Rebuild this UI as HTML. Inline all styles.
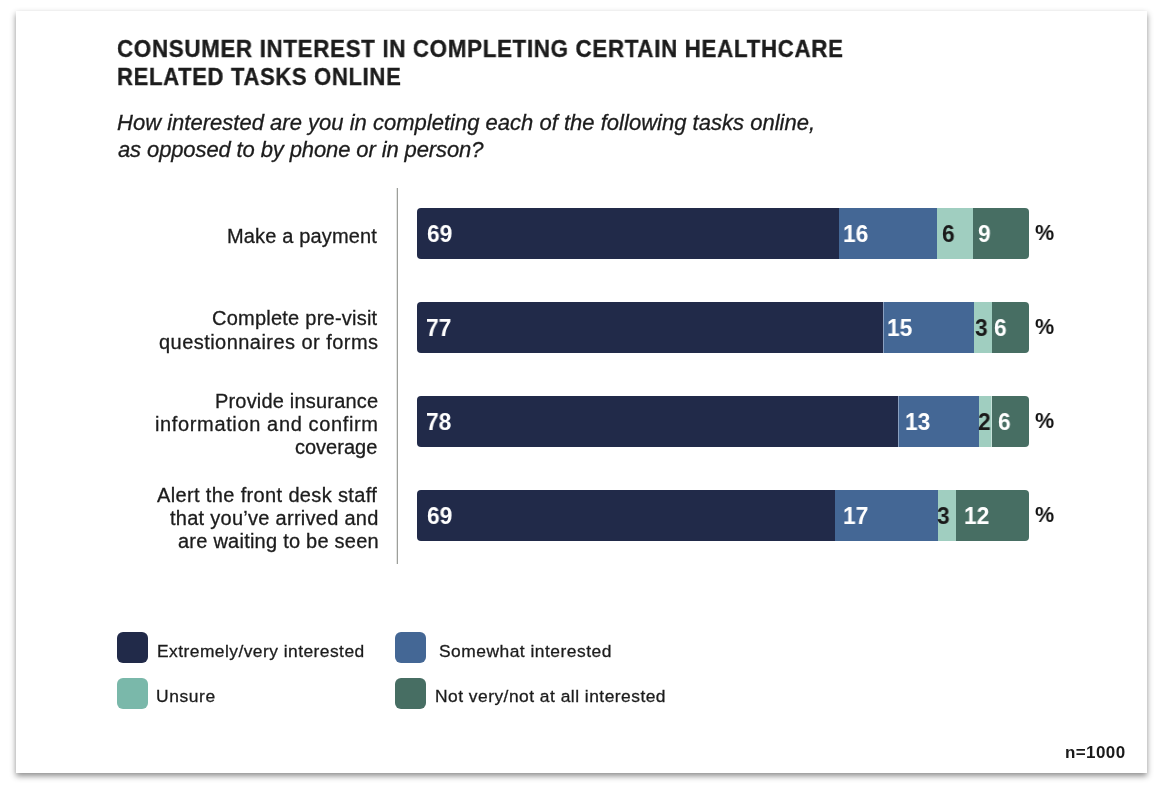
<!DOCTYPE html>
<html><head><meta charset="utf-8">
<style>
html,body{margin:0;padding:0;width:1166px;height:788px;background:#fff;overflow:hidden;}
body{position:relative;font-family:"Liberation Sans",sans-serif;color:#222;}
.card{position:absolute;left:16px;top:11px;width:1131px;height:762px;background:#fff;box-shadow:0 2.5px 6px rgba(0,0,0,0.45);}
.t{position:absolute;white-space:nowrap;line-height:1;will-change:transform;}
.title{font-weight:bold;color:#1c1c1c;-webkit-text-stroke:0.35px #1c1c1c;}
.sub{font-style:italic;color:#1c1c1c;-webkit-text-stroke:0.3px #1c1c1c;}
.lab{color:#1c1c1c;-webkit-text-stroke:0.3px #1c1c1c;}
.leg{color:#1c1c1c;-webkit-text-stroke:0.3px #1c1c1c;}
.nn{font-weight:bold;color:#1a1a1a;}
.num{font-weight:bold;}
.w{color:#fff;}
.k{color:#1a1a1a;}
.pct{font-weight:bold;color:#111;}
.vline{position:absolute;left:396px;top:188px;width:2px;height:376px;background:linear-gradient(to right,#e4e5e3 50%,#9d9f9b 50%);}
.bar{position:absolute;left:417px;width:612px;height:51px;border-radius:4px;overflow:hidden;}
.seg{position:absolute;top:0;height:51px;}
.c1{background:#212a49;}
.c2{background:#446795;}
.c3{background:#a0cec0;}
.c4{background:#476e63;}
.sep{position:absolute;top:0;width:1px;height:51px;}
.sw{position:absolute;width:31px;height:31px;border-radius:6px;}
.bl{display:inline-block;width:0;height:0;vertical-align:baseline;}
</style></head><body>
<div class="card"></div>
<div class="vline"></div>
<div class="bar" style="top:208px;"><div class="seg c1" style="left:0.00px;width:422.00px;"></div><div class="seg c2" style="left:422.00px;width:98.00px;"></div><div class="seg c3" style="left:520.00px;width:36.00px;"></div><div class="seg c4" style="left:556.00px;width:56.00px;"></div></div>
<div class="bar" style="top:302px;"><div class="seg c1" style="left:0.00px;width:467.00px;"></div><div class="seg c2" style="left:467.00px;width:90.00px;"></div><div class="seg c3" style="left:557.00px;width:18.00px;"></div><div class="seg c4" style="left:575.00px;width:37.00px;"></div><div class="sep" style="left:466px;background:#8aa0c0;"></div></div>
<div class="bar" style="top:396px;"><div class="seg c1" style="left:0.00px;width:481.50px;"></div><div class="seg c2" style="left:481.50px;width:80.50px;"></div><div class="seg c3" style="left:562.00px;width:13.00px;"></div><div class="seg c4" style="left:575.00px;width:37.00px;"></div><div class="sep" style="left:481px;background:#8aa0c0;"></div><div class="sep" style="left:574px;background:#c6e2da;"></div></div>
<div class="bar" style="top:490px;"><div class="seg c1" style="left:0.00px;width:417.60px;"></div><div class="seg c2" style="left:417.60px;width:103.00px;"></div><div class="seg c3" style="left:520.60px;width:18.40px;"></div><div class="seg c4" style="left:539.00px;width:73.00px;"></div></div>
<div class="sw c1" style="left:117px;top:632px;"></div>
<div class="sw c2" style="left:395px;top:632px;"></div>
<div class="sw" style="left:117px;top:678px;background:#7ab8aa;"></div>
<div class="sw c4" style="left:395px;top:678px;"></div>
<div class="t title" id="t1" style="left:117.00px;top:37.01px;font-size:24.70px;letter-spacing:0.700px;transform:scaleX(0.9075);transform-origin:0 0;">CONSUMER INTEREST IN COMPLETING CERTAIN HEALTHCARE</div>
<div class="t title" id="t2" style="left:117.00px;top:65.01px;font-size:24.70px;letter-spacing:0.700px;transform:scaleX(0.8955);transform-origin:0 0;">RELATED TASKS ONLINE</div>
<div class="t sub" id="s1" style="left:116.50px;top:112.01px;font-size:22.00px;letter-spacing:0.014px;">How interested are you in completing each of the following tasks online,</div>
<div class="t sub" id="s2" style="left:117.50px;top:139.01px;font-size:22.00px;letter-spacing:-0.114px;">as opposed to by phone or in person?</div>
<div class="t lab" id="l1" style="left:227.20px;top:226.00px;font-size:20.00px;letter-spacing:0.154px;">Make a payment</div>
<div class="t lab" id="l2a" style="left:212.00px;top:308.30px;font-size:20.00px;letter-spacing:0.235px;">Complete pre-visit</div>
<div class="t lab" id="l2b" style="left:158.60px;top:331.50px;font-size:20.00px;letter-spacing:0.455px;">questionnaires or forms</div>
<div class="t lab" id="l3a" style="left:215.10px;top:391.00px;font-size:20.00px;letter-spacing:0.187px;">Provide insurance</div>
<div class="t lab" id="l3b" style="left:155.20px;top:414.00px;font-size:20.00px;letter-spacing:0.636px;">information and confirm</div>
<div class="t lab" id="l3c" style="left:295.40px;top:437.40px;font-size:20.00px;">coverage</div>
<div class="t lab" id="l4a" style="left:157.30px;top:485.00px;font-size:20.00px;letter-spacing:0.360px;">Alert the front desk staff</div>
<div class="t lab" id="l4b" style="left:170.30px;top:508.00px;font-size:20.00px;letter-spacing:0.273px;">that you’ve arrived and</div>
<div class="t lab" id="l4c" style="left:177.90px;top:531.00px;font-size:20.00px;letter-spacing:0.238px;">are waiting to be seen</div>
<div class="t leg" id="g1" style="left:156.50px;top:643.00px;font-size:17.40px;letter-spacing:0.458px;">Extremely/very interested</div>
<div class="t leg" id="g2" style="left:438.60px;top:643.00px;font-size:17.40px;letter-spacing:0.500px;">Somewhat interested</div>
<div class="t leg" id="g3" style="left:156.40px;top:688.22px;font-size:17.40px;letter-spacing:0.600px;">Unsure</div>
<div class="t leg" id="g4" style="left:434.90px;top:688.22px;font-size:17.40px;letter-spacing:0.483px;">Not very/not at all interested</div>
<div class="t nn" id="n" style="left:1064.70px;top:744.00px;font-size:17.00px;letter-spacing:0.400px;">n=1000</div>
<div class="t num w" id="n00" style="left:426.80px;top:222.00px;font-size:23.80px;transform:scaleX(0.9550);transform-origin:0 0;">69</div>
<div class="t num w" id="n01" style="left:843.00px;top:222.00px;font-size:23.80px;transform:scaleX(0.9550);transform-origin:0 0;">16</div>
<div class="t num k" id="n02" style="left:942.30px;top:222.00px;font-size:23.80px;transform:scaleX(0.9550);transform-origin:0 0;">6</div>
<div class="t num w" id="n03" style="left:977.90px;top:222.00px;font-size:23.80px;transform:scaleX(0.9550);transform-origin:0 0;">9</div>
<div class="t pct" id="p0" style="left:1035.20px;top:221.01px;font-size:22.70px;transform:scaleX(0.9511);transform-origin:0 0;">%</div>
<div class="t num w" id="n10" style="left:426.30px;top:316.00px;font-size:23.80px;transform:scaleX(0.9550);transform-origin:0 0;">77</div>
<div class="t num w" id="n11" style="left:887.00px;top:316.00px;font-size:23.80px;transform:scaleX(0.9550);transform-origin:0 0;">15</div>
<div class="t num k" id="n12" style="left:974.90px;top:316.00px;font-size:23.80px;transform:scaleX(0.9550);transform-origin:0 0;">3</div>
<div class="t num w" id="n13" style="left:993.80px;top:316.00px;font-size:23.80px;transform:scaleX(0.9550);transform-origin:0 0;">6</div>
<div class="t pct" id="p1" style="left:1035.20px;top:315.01px;font-size:22.70px;transform:scaleX(0.9511);transform-origin:0 0;">%</div>
<div class="t num w" id="n20" style="left:426.30px;top:410.00px;font-size:23.80px;transform:scaleX(0.9550);transform-origin:0 0;">78</div>
<div class="t num w" id="n21" style="left:904.60px;top:410.00px;font-size:23.80px;transform:scaleX(0.9550);transform-origin:0 0;">13</div>
<div class="t num k" id="n22" style="left:978.20px;top:410.00px;font-size:23.80px;transform:scaleX(0.9550);transform-origin:0 0;">2</div>
<div class="t num w" id="n23" style="left:997.70px;top:410.00px;font-size:23.80px;transform:scaleX(0.9550);transform-origin:0 0;">6</div>
<div class="t pct" id="p2" style="left:1035.20px;top:409.01px;font-size:22.70px;transform:scaleX(0.9511);transform-origin:0 0;">%</div>
<div class="t num w" id="n30" style="left:426.80px;top:504.00px;font-size:23.80px;transform:scaleX(0.9550);transform-origin:0 0;">69</div>
<div class="t num w" id="n31" style="left:842.80px;top:504.00px;font-size:23.80px;transform:scaleX(0.9550);transform-origin:0 0;">17</div>
<div class="t num k" id="n32" style="left:936.60px;top:504.00px;font-size:23.80px;transform:scaleX(0.9550);transform-origin:0 0;">3</div>
<div class="t num w" id="n33" style="left:963.80px;top:504.00px;font-size:23.80px;transform:scaleX(0.9550);transform-origin:0 0;">12</div>
<div class="t pct" id="p3" style="left:1035.20px;top:503.01px;font-size:22.70px;transform:scaleX(0.9511);transform-origin:0 0;">%</div>
</body></html>
